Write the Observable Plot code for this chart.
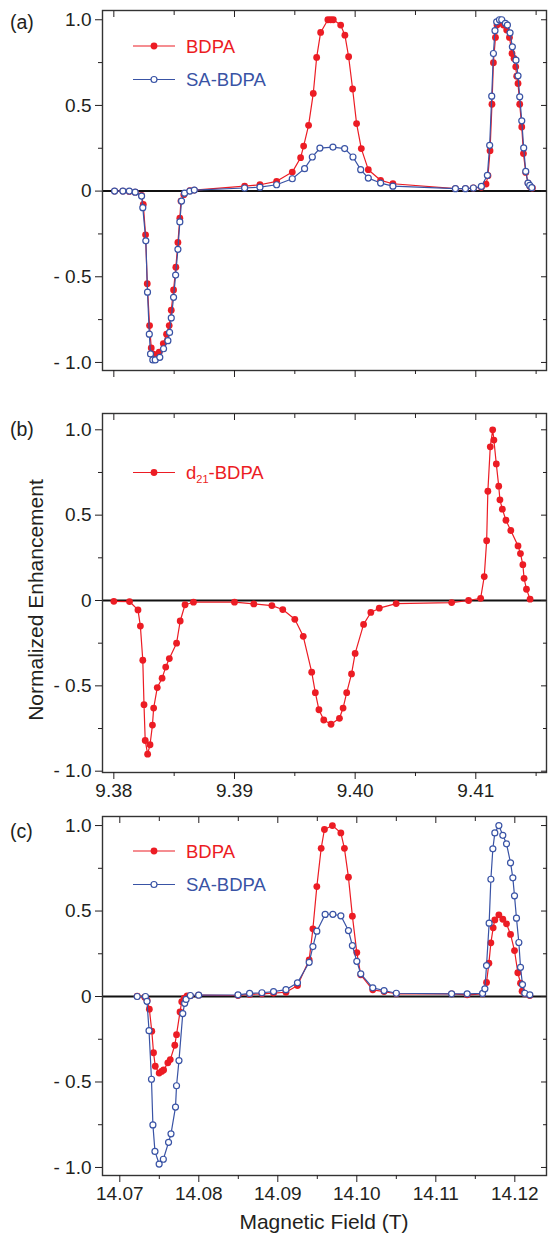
<!DOCTYPE html>
<html><head><meta charset="utf-8">
<script src="https://cdn.jsdelivr.net/npm/d3@7"></script>
<script src="https://cdn.jsdelivr.net/npm/@observablehq/plot@0.6"></script>
<style>
body{margin:0;background:#fff;}
#wrap{position:relative;width:549px;height:1236px;overflow:hidden;background:#fff;font-family:'Liberation Sans',Arial,sans-serif;}
#wrap > svg{position:absolute;left:0;}
</style></head><body><div id="wrap"></div>
<script>
const RED = "#ec1c24", BLUE = "#3953a5", INK = "#231f20";

// ---- Panel (a): BDPA vs SA-BDPA (field axis shared with panel b, unlabeled)
const aRedX = [9.38006,9.38075,9.38128,9.38177,9.38230,9.38244,9.38263,9.38277,9.38296,9.38310,9.38323,9.38352,9.38376,9.38410,9.38437,9.38459,9.38476,9.38495,9.38514,9.38531,9.38547,9.38556,9.38580,9.38630,9.38667,
 9.39084,9.39211,9.39349,9.39479,9.39548,9.39573,9.39614,9.39653,9.39681,9.39714,9.39774,9.39797,9.39819,9.39880,9.39915,9.39946,9.39979,9.40012,9.40051,9.40109,9.40211,9.40313,
 9.40831,9.40914,9.40980,9.41046,9.41085,9.41101,9.41118,9.41134,9.41146,9.41163,9.41176,9.41201,9.41229,9.41256,9.41279,9.41300,9.41317,9.41331,9.41339,9.41350,9.41364,9.41381,9.41395,9.41414,9.41433,9.41449,9.41469];
const aRedY = [0,0,-0.002,-0.006,-0.025,-0.078,-0.255,-0.54,-0.785,-0.915,-0.95,-0.955,-0.94,-0.89,-0.835,-0.785,-0.695,-0.577,-0.444,-0.30,-0.158,-0.058,-0.021,0.002,0.006,
 0.029,0.037,0.057,0.111,0.195,0.263,0.384,0.57,0.78,0.926,1.0,1.0,1.0,0.969,0.91,0.784,0.596,0.394,0.248,0.125,0.063,0.043,
 0.014,0.014,0.018,0.022,0.041,0.09,0.236,0.507,0.749,0.897,0.969,0.982,0.969,0.94,0.897,0.803,0.774,0.725,0.671,0.628,0.507,0.374,0.219,0.109,0.047,0.027,0.018];
const aBlueX = [9.38006,9.38075,9.38128,9.38177,9.38230,9.38240,9.38265,9.38279,9.38294,9.38304,9.38323,9.38343,9.38381,9.38412,9.38448,9.38462,9.38476,9.38495,9.38512,9.38531,9.38547,9.38561,9.38586,9.38630,9.38667,
 9.39084,9.39211,9.39349,9.39479,9.39581,9.39645,9.39708,9.39816,9.39913,9.39982,9.40046,9.40109,9.40211,9.40313,
 9.40831,9.40914,9.40980,9.41046,9.41096,9.41115,9.41132,9.41146,9.41159,9.41173,9.41196,9.41215,9.41245,9.41262,9.41284,9.41303,9.41333,9.41350,9.41364,9.41381,9.41397,9.41414,9.41433,9.41447,9.41464];
const aBlueY = [0,0,0,-0.006,-0.029,-0.097,-0.29,-0.59,-0.835,-0.95,-0.985,-0.985,-0.97,-0.92,-0.873,-0.825,-0.74,-0.62,-0.49,-0.34,-0.18,-0.058,-0.012,0,0.006,
 0.018,0.023,0.037,0.072,0.131,0.199,0.251,0.257,0.248,0.199,0.125,0.076,0.047,0.029,
 0.014,0.014,0.018,0.027,0.092,0.267,0.554,0.803,0.936,0.988,1.0,1.0,0.979,0.969,0.924,0.842,0.764,0.673,0.55,0.41,0.252,0.115,0.047,0.033,0.02];

// ---- Panel (b): d21-BDPA
const bX = [9.3800,9.3813,9.3820,9.3822,9.3824,9.3825,9.3826,9.3828,9.3830,9.3832,9.3833,9.3836,9.3840,9.3843,9.3846,9.3852,9.3855,9.3859,9.3866,9.3900,
 9.3916,9.3931,9.3940,9.3950,9.3957,9.3964,9.3967,9.3970,9.3974,9.3980,9.3987,9.3990,9.3993,9.3997,9.4000,9.4007,9.4013,9.4020,9.4034,9.4080,
 9.4094,9.4104,9.4107,9.4109,9.4110,9.4112,9.4114,9.4115,9.4117,9.4119,9.4120,9.4122,9.4125,9.4129,9.4135,9.4137,9.4139,9.4140,9.4142,9.4145];
const bY = [-0.005,-0.006,-0.055,-0.15,-0.35,-0.61,-0.82,-0.90,-0.845,-0.73,-0.63,-0.51,-0.455,-0.39,-0.34,-0.25,-0.12,-0.025,-0.01,-0.01,
 -0.02,-0.03,-0.053,-0.11,-0.21,-0.42,-0.54,-0.64,-0.70,-0.725,-0.69,-0.63,-0.54,-0.43,-0.31,-0.14,-0.07,-0.045,-0.018,-0.012,
 0.0,0.013,0.14,0.35,0.64,0.90,1.00,0.94,0.80,0.67,0.59,0.535,0.47,0.41,0.32,0.275,0.21,0.13,0.066,0.008];

// ---- Panel (c): BDPA vs SA-BDPA at 14.1 T
const cRedX = [14.07220,14.07316,14.07346,14.07374,14.07405,14.07427,14.07449,14.07498,14.07529,14.07555,14.07608,14.07639,14.07696,14.07718,14.07762,14.07784,14.07815,14.07852,14.07893,14.07998,
 14.08496,14.08643,14.08799,14.08946,14.09103,14.09249,14.09397,14.09444,14.09494,14.09549,14.09590,14.09691,14.09798,14.09843,14.09894,14.09944,14.10000,14.10050,14.10202,14.10345,
 14.10500,14.11200,14.11397,14.11592,14.11642,14.11672,14.11697,14.11726,14.11747,14.11798,14.11848,14.11895,14.11946,14.11996,14.12038,14.12072,14.12092,14.12126,14.12190];
const cRedY = [0.002,-0.004,-0.023,-0.074,-0.203,-0.329,-0.408,-0.448,-0.438,-0.43,-0.388,-0.369,-0.285,-0.223,-0.09,-0.03,-0.01,0.004,0.004,0.008,
 0.006,0.012,0.016,0.02,0.025,0.064,0.214,0.396,0.643,0.867,0.977,1.0,0.957,0.867,0.698,0.47,0.257,0.127,0.039,0.029,
 0.016,0.016,0.01,0.016,0.082,0.195,0.314,0.402,0.448,0.478,0.452,0.425,0.363,0.269,0.139,0.078,0.031,0.016,0.006];
const cBlueX = [14.07220,14.07325,14.07344,14.07370,14.07401,14.07419,14.07445,14.07498,14.07551,14.07617,14.07648,14.07705,14.07718,14.07749,14.07797,14.07821,14.07839,14.07893,14.07998,
 14.08496,14.08643,14.08799,14.08946,14.09103,14.09249,14.09397,14.09444,14.09494,14.09599,14.09697,14.09798,14.09894,14.09944,14.10000,14.10050,14.10202,14.10345,14.10500,
 14.11200,14.11397,14.11592,14.11621,14.11642,14.11675,14.11697,14.11722,14.11747,14.11798,14.11848,14.11895,14.11946,14.11975,14.11996,14.12021,14.12051,14.12072,14.12097,14.12126,14.12190];
const cBlueY = [0,0,-0.028,-0.2,-0.484,-0.751,-0.906,-0.98,-0.952,-0.853,-0.803,-0.647,-0.522,-0.375,-0.1,-0.04,-0.017,0.006,0.008,
 0.01,0.018,0.022,0.029,0.04,0.08,0.2,0.292,0.382,0.48,0.481,0.472,0.386,0.298,0.206,0.133,0.051,0.035,0.019,
 0.016,0.016,0.018,0.045,0.181,0.429,0.686,0.864,0.957,1.0,0.943,0.893,0.782,0.694,0.589,0.458,0.316,0.171,0.07,0.019,0.01];

// ---- Tick values
const yMajor = [-1, -0.5, 0, 0.5, 1];
const yMinor = [-0.75, -0.25, 0.25, 0.75];
const lowMajor = [9.38, 9.39, 9.40, 9.41];
const lowMinor = [9.385, 9.395, 9.405, 9.415];
const highMajor = [14.07, 14.08, 14.09, 14.10, 14.11, 14.12];
const highMinor = [14.075, 14.085, 14.095, 14.105, 14.115];

const tbl = (xs, ys) => xs.map((x, i) => ({x, y: ys[i]}));
const fmtY = d => d === 0 ? "0" : (d < 0 ? "- " + (-d).toFixed(1) : d.toFixed(1));
const blank = () => "";

function panel({xDomain, yDomain, height, mt, mb, series, xMajor, xMinor, labels}) {
  const marks = [Plot.ruleY([0], {stroke: "#111", strokeWidth: 2})];
  for (const s of series) {
    const d = tbl(s.x, s.y);
    marks.push(Plot.line(d, {x: "x", y: "y", stroke: s.color, strokeWidth: 1.2}));
    marks.push(s.open
      ? Plot.dot(d, {x: "x", y: "y", r: 3, fill: "white", stroke: s.color, strokeWidth: 1.2})
      : Plot.dot(d, {x: "x", y: "y", r: 3.4, fill: s.color, stroke: "none"}));
  }
  marks.push(
    Plot.frame({stroke: "#333", strokeWidth: 1.4}),
    Plot.axisY(yMajor, {anchor: "left", tickSize: 7, tickPadding: 4, fontSize: 19, tickFormat: fmtY, label: null}),
    Plot.axisY(yMinor, {anchor: "left", tickSize: 4, tickFormat: blank, label: null}),
    Plot.axisY(yMajor, {anchor: "right", tickSize: 6, dx: -6, tickFormat: blank, label: null}),
    Plot.axisY(yMinor, {anchor: "right", tickSize: 4, dx: -4, tickFormat: blank, label: null}),
    Plot.axisX(xMajor, {anchor: "bottom", tickSize: 7, tickPadding: 4, fontSize: 19, tickFormat: labels ? (d => d.toFixed(2)) : blank, label: null}),
    Plot.axisX(xMinor, {anchor: "bottom", tickSize: 4, tickFormat: blank, label: null}),
    Plot.axisX(xMajor, {anchor: "top", tickSize: 6, dy: 6, tickFormat: blank, label: null}),
    Plot.axisX(xMinor, {anchor: "top", tickSize: 4, dy: 4, tickFormat: blank, label: null})
  );
  return Plot.plot({
    width: 549, height,
    marginLeft: 102, marginRight: 3, marginTop: mt, marginBottom: mb,
    x: {domain: xDomain, label: null},
    y: {domain: yDomain, label: null},
    style: {fontFamily: "'Liberation Sans', Arial, sans-serif", color: INK, background: "white", overflow: "visible"},
    marks
  });
}

const wrap = document.getElementById("wrap");
const pa = panel({xDomain: [9.37906, 9.41586], yDomain: [-1.047, 1.054], height: 400, mt: 10, mb: 30,
  series: [{x: aRedX, y: aRedY, color: RED}, {x: aBlueX, y: aBlueY, color: BLUE, open: true}],
  xMajor: lowMajor, xMinor: lowMinor, labels: false});
const pb = panel({xDomain: [9.37906, 9.41586], yDomain: [-1.0076, 1.0955], height: 410, mt: 13, mb: 38,
  series: [{x: bX, y: bY, color: RED}],
  xMajor: lowMajor, xMinor: lowMinor, labels: true});
const pc = panel({xDomain: [14.06781, 14.12401], yDomain: [-1.047, 1.053], height: 426, mt: 6, mb: 61,
  series: [{x: cRedX, y: cRedY, color: RED}, {x: cBlueX, y: cBlueY, color: BLUE, open: true}],
  xMajor: highMajor, xMinor: highMinor, labels: true});
pa.style.top = "0px"; pb.style.top = "400px"; pc.style.top = "810px";
wrap.append(pa, pb, pc);

// ---- Overlay: panel letters, legends, axis titles (real text)
const NS = "http://www.w3.org/2000/svg";
const ov = document.createElementNS(NS, "svg");
ov.setAttribute("width", 549); ov.setAttribute("height", 1236);
ov.style.top = "0px"; ov.style.pointerEvents = "none";
wrap.append(ov);
function el(tag, attrs, text) {
  const e = document.createElementNS(NS, tag);
  for (const k in attrs) e.setAttribute(k, attrs[k]);
  if (text != null) e.textContent = text;
  ov.append(e);
  return e;
}
const FF = "'Liberation Sans', Arial, sans-serif";
[["(a)", 29], ["(b)", 436], ["(c)", 838]].forEach(([t, y]) =>
  el("text", {x: 10, y, "font-family": FF, "font-size": 19.5, fill: INK}, t));
el("text", {transform: "translate(43,600) rotate(-90)", "text-anchor": "middle", "font-family": FF, "font-size": 21, fill: INK}, "Normalized Enhancement");
el("text", {x: 324, y: 1229, "text-anchor": "middle", "font-family": FF, "font-size": 21, fill: INK}, "Magnetic Field (T)");

function legendRow(cy, color, open, label, sub) {
  el("line", {x1: 133, x2: 175, y1: cy, y2: cy, stroke: color, "stroke-width": 1.2});
  if (open) el("circle", {cx: 154, cy, r: 3, fill: "white", stroke: color, "stroke-width": 1.2});
  else el("circle", {cx: 154, cy, r: 3.4, fill: color});
  const t = el("text", {x: 186, y: cy + 6.5, "font-family": FF, "font-size": 18.5, fill: color});
  if (sub) {
    t.append(document.createTextNode("d"));
    const ts = document.createElementNS(NS, "tspan");
    ts.setAttribute("font-size", 11); ts.setAttribute("dy", 4); ts.textContent = "21";
    t.append(ts);
    const ts2 = document.createElementNS(NS, "tspan");
    ts2.setAttribute("dy", -4); ts2.textContent = "-BDPA";
    t.append(ts2);
  } else t.textContent = label;
}
legendRow(46, RED, false, "BDPA");
legendRow(79.5, BLUE, true, "SA-BDPA");
legendRow(472.5, RED, false, null, true);
legendRow(851, RED, false, "BDPA");
legendRow(884.5, BLUE, true, "SA-BDPA");
</script>
</body></html>
